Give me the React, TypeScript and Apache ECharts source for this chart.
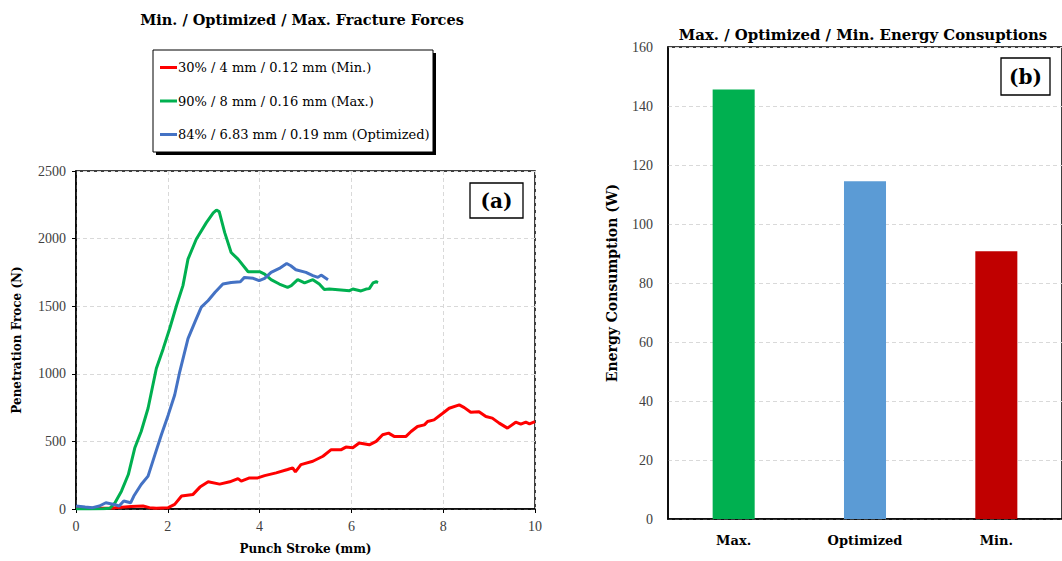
import React, { useEffect, useRef } from "react";
import * as echarts from "echarts";

const FONT = "'Liberation Serif', serif";
const FONT2 = "'DejaVu Serif', serif";

const lineNames = [
  "30% / 4 mm / 0.12 mm (Min.)",
  "90% / 8 mm / 0.16 mm (Max.)",
  "84% / 6.83 mm / 0.19 mm (Optimized)",
];
const lineColors = ["#ff0000", "#00b050", "#4472c4"];

const minCurve: number[][] = [
  [0, 5], [0.5, 5], [0.8, 8], [1.2, 18], [1.46, 22], [1.6, 10], [1.75, 5], [2.01, 10],
  [2.15, 34], [2.3, 96], [2.55, 108], [2.7, 162], [2.88, 201], [3.13, 184], [3.35, 201],
  [3.53, 225], [3.6, 206], [3.78, 230], [3.96, 230], [4.11, 247], [4.36, 267], [4.61, 292],
  [4.72, 304], [4.78, 275], [4.9, 328], [5.16, 353], [5.38, 390], [5.56, 439], [5.78, 439],
  [5.88, 458], [6.03, 453], [6.17, 488], [6.39, 475], [6.54, 500], [6.68, 549], [6.81, 561],
  [6.93, 537], [7.19, 537], [7.3, 573], [7.44, 610], [7.59, 622], [7.66, 647], [7.8, 659],
  [7.99, 708], [8.13, 745], [8.35, 770], [8.46, 750], [8.6, 715], [8.78, 720], [8.93, 684],
  [9.07, 672], [9.22, 635], [9.4, 598], [9.58, 642], [9.69, 627], [9.8, 642], [9.88, 630],
  [10, 647],
];

const maxCurve: number[][] = [
  [0, 0], [0.3, 0], [0.6, 2], [0.74, 5], [0.85, 46], [0.99, 132], [1.14, 255], [1.28, 451],
  [1.42, 573], [1.57, 745], [1.75, 1039], [1.9, 1186], [2.04, 1333], [2.19, 1505],
  [2.33, 1652], [2.44, 1848], [2.62, 1995], [2.84, 2118], [2.99, 2190], [3.06, 2211],
  [3.12, 2200], [3.24, 2044], [3.38, 1897], [3.53, 1848], [3.75, 1755], [4.0, 1755],
  [4.11, 1738], [4.25, 1696], [4.43, 1664], [4.61, 1640], [4.69, 1652], [4.83, 1696],
  [4.98, 1672], [5.16, 1696], [5.3, 1664], [5.41, 1623], [5.52, 1627], [5.96, 1615],
  [6.03, 1627], [6.21, 1613], [6.32, 1627], [6.39, 1630], [6.47, 1672], [6.54, 1681],
  [6.58, 1675],
];

const optCurve: number[][] = [
  [0, 22], [0.2, 15], [0.36, 10], [0.51, 22], [0.65, 46], [0.83, 34], [0.94, 22], [1.04, 59],
  [1.19, 46], [1.26, 96], [1.42, 181], [1.57, 243], [1.72, 402], [1.86, 549], [2.01, 696],
  [2.15, 843], [2.26, 1015], [2.44, 1260], [2.59, 1382], [2.73, 1493], [2.88, 1542],
  [3.03, 1603], [3.2, 1664], [3.38, 1676], [3.58, 1681], [3.67, 1713], [3.86, 1706],
  [3.99, 1689], [4.11, 1706], [4.25, 1750], [4.43, 1779], [4.59, 1816], [4.68, 1799],
  [4.79, 1770], [5.01, 1750], [5.16, 1726], [5.27, 1713], [5.34, 1730], [5.49, 1696],
];

const barCategories = ["Max.", "Optimized", "Min."];
const barValues = [145.6, 114.5, 90.8];
const barColors = ["#00b050", "#5b9bd5", "#c00000"];

export default function App() {
  const ref = useRef<HTMLDivElement>(null);
  useEffect(() => {
    if (!ref.current) return;
    const chart = echarts.init(ref.current, undefined, { renderer: "svg" });
    const tickLabel = { fontFamily: FONT, fontSize: 14, color: "#404040" };
    const axisName = { fontFamily: FONT2, fontSize: 12, fontWeight: "bold", color: "#000" };
    const dashed = { show: true, lineStyle: { color: "#d9d9d9", type: [4, 3], width: 1 } };
    const curves = [minCurve, maxCurve, optCurve];

    chart.setOption({
      animation: false,
      backgroundColor: "#fff",
      title: [
        {
          text: "Min. / Optimized / Max. Fracture Forces",
          left: 297,
          textAlign: "center",
          top: 7,
          textStyle: { fontFamily: FONT2, fontSize: 14.5, fontWeight: "bold", color: "#000" },
        },
        {
          text: "Max. / Optimized / Min. Energy Consuptions",
          left: 858,
          textAlign: "center",
          top: 22,
          textStyle: { fontFamily: FONT2, fontSize: 14.9, fontWeight: "bold", color: "#000" },
        },
      ],
      legend: {
        data: lineNames,
        orient: "vertical",
        left: 160,
        top: 61,
        itemGap: 20.5,
        itemWidth: 17,
        itemHeight: 3,
        icon: "rect",
        padding: 0,
        z: 10,
        textStyle: { fontFamily: FONT2, fontSize: 13, color: "#000", padding: [0, 0, 0, -4] },
      },
      graphic: [
        { type: "rect", shape: { x: 156, y: 53, width: 280, height: 102 }, style: { fill: "#000" }, z: 1 },
        { type: "rect", shape: { x: 153, y: 50, width: 280, height: 102 }, style: { fill: "#fff", stroke: "#000", lineWidth: 1 }, z: 2 },
        { type: "rect", shape: { x: 470, y: 183, width: 53, height: 35 }, style: { fill: "#fff", stroke: "#000", lineWidth: 1.3 }, z: 20 },
        { type: "text", x: 496.5, y: 201, style: { text: "(a)", fontFamily: FONT2, fontSize: 20, fontWeight: "bold", fill: "#000", align: "center", verticalAlign: "middle" }, z: 21 },
        { type: "rect", shape: { x: 1001, y: 58, width: 49, height: 37 }, style: { fill: "#fff", stroke: "#000", lineWidth: 1.3 }, z: 20 },
        { type: "text", x: 1025.5, y: 77, style: { text: "(b)", fontFamily: FONT2, fontSize: 20, fontWeight: "bold", fill: "#000", align: "center", verticalAlign: "middle" }, z: 21 },
      ],
      grid: [
        { left: 76, top: 171, width: 459, height: 338, show: true, borderColor: "#000", borderWidth: 1.5, backgroundColor: "transparent" },
        { left: 668, top: 47, width: 399, height: 472, show: true, borderColor: "#000", borderWidth: 1.5, backgroundColor: "transparent" },
      ],
      xAxis: [
        {
          type: "value", gridIndex: 0, min: 0, max: 10, interval: 2,
          name: "Punch Stroke (mm)", nameLocation: "middle", nameGap: 34, nameTextStyle: axisName,
          axisLine: { show: true, lineStyle: { color: "#000", width: 1.5 } },
          axisTick: { show: true, length: 4, lineStyle: { color: "#000" } },
          axisLabel: { ...tickLabel, margin: 10, formatter: (v: number) => String(v) },
          splitLine: dashed,
        },
        {
          type: "category", gridIndex: 1, data: barCategories,
          axisLine: { show: true, lineStyle: { color: "#000", width: 1.5 } },
          axisTick: { show: false },
          axisLabel: { fontFamily: FONT2, fontSize: 13, fontWeight: "bold", color: "#000", margin: 15 },
          splitLine: { show: false },
        },
      ],
      yAxis: [
        {
          type: "value", gridIndex: 0, min: 0, max: 2500, interval: 500,
          name: "Penetration Froce (N)", nameLocation: "middle", nameGap: 53, nameTextStyle: axisName,
          axisLine: { show: true, lineStyle: { color: "#000", width: 1.5 } },
          axisTick: { show: true, length: 4, lineStyle: { color: "#000" } },
          axisLabel: { ...tickLabel, margin: 10, formatter: (v: number) => String(v) },
          splitLine: dashed,
        },
        {
          type: "value", gridIndex: 1, min: 0, max: 160, interval: 20,
          name: "Energy Consumption (W)", nameLocation: "middle", nameGap: 49,
          nameTextStyle: { ...axisName, fontSize: 14 },
          axisLine: { show: true, lineStyle: { color: "#000", width: 1.5 } },
          axisTick: { show: false },
          axisLabel: { ...tickLabel, margin: 15 },
          splitLine: dashed,
        },
      ],
      series: [
        ...curves.map((d, i) => ({
          type: "line",
          name: lineNames[i],
          xAxisIndex: 0,
          yAxisIndex: 0,
          data: d,
          showSymbol: false,
          symbol: "none",
          lineStyle: { color: lineColors[i], width: 3 },
          itemStyle: { color: lineColors[i] },
          z: 3,
        })),
        {
          type: "bar",
          xAxisIndex: 1,
          yAxisIndex: 1,
          barWidth: "32%",
          data: barValues.map((v, i) => ({ value: v, itemStyle: { color: barColors[i] } })),
          z: 3,
        },
      ],
    });
    return () => chart.dispose();
  }, []);
  return (
    <div
      ref={ref}
      style={{ position: "fixed", left: 0, top: 0, width: 1062, height: 561, background: "#fff" }}
    />
  );
}
